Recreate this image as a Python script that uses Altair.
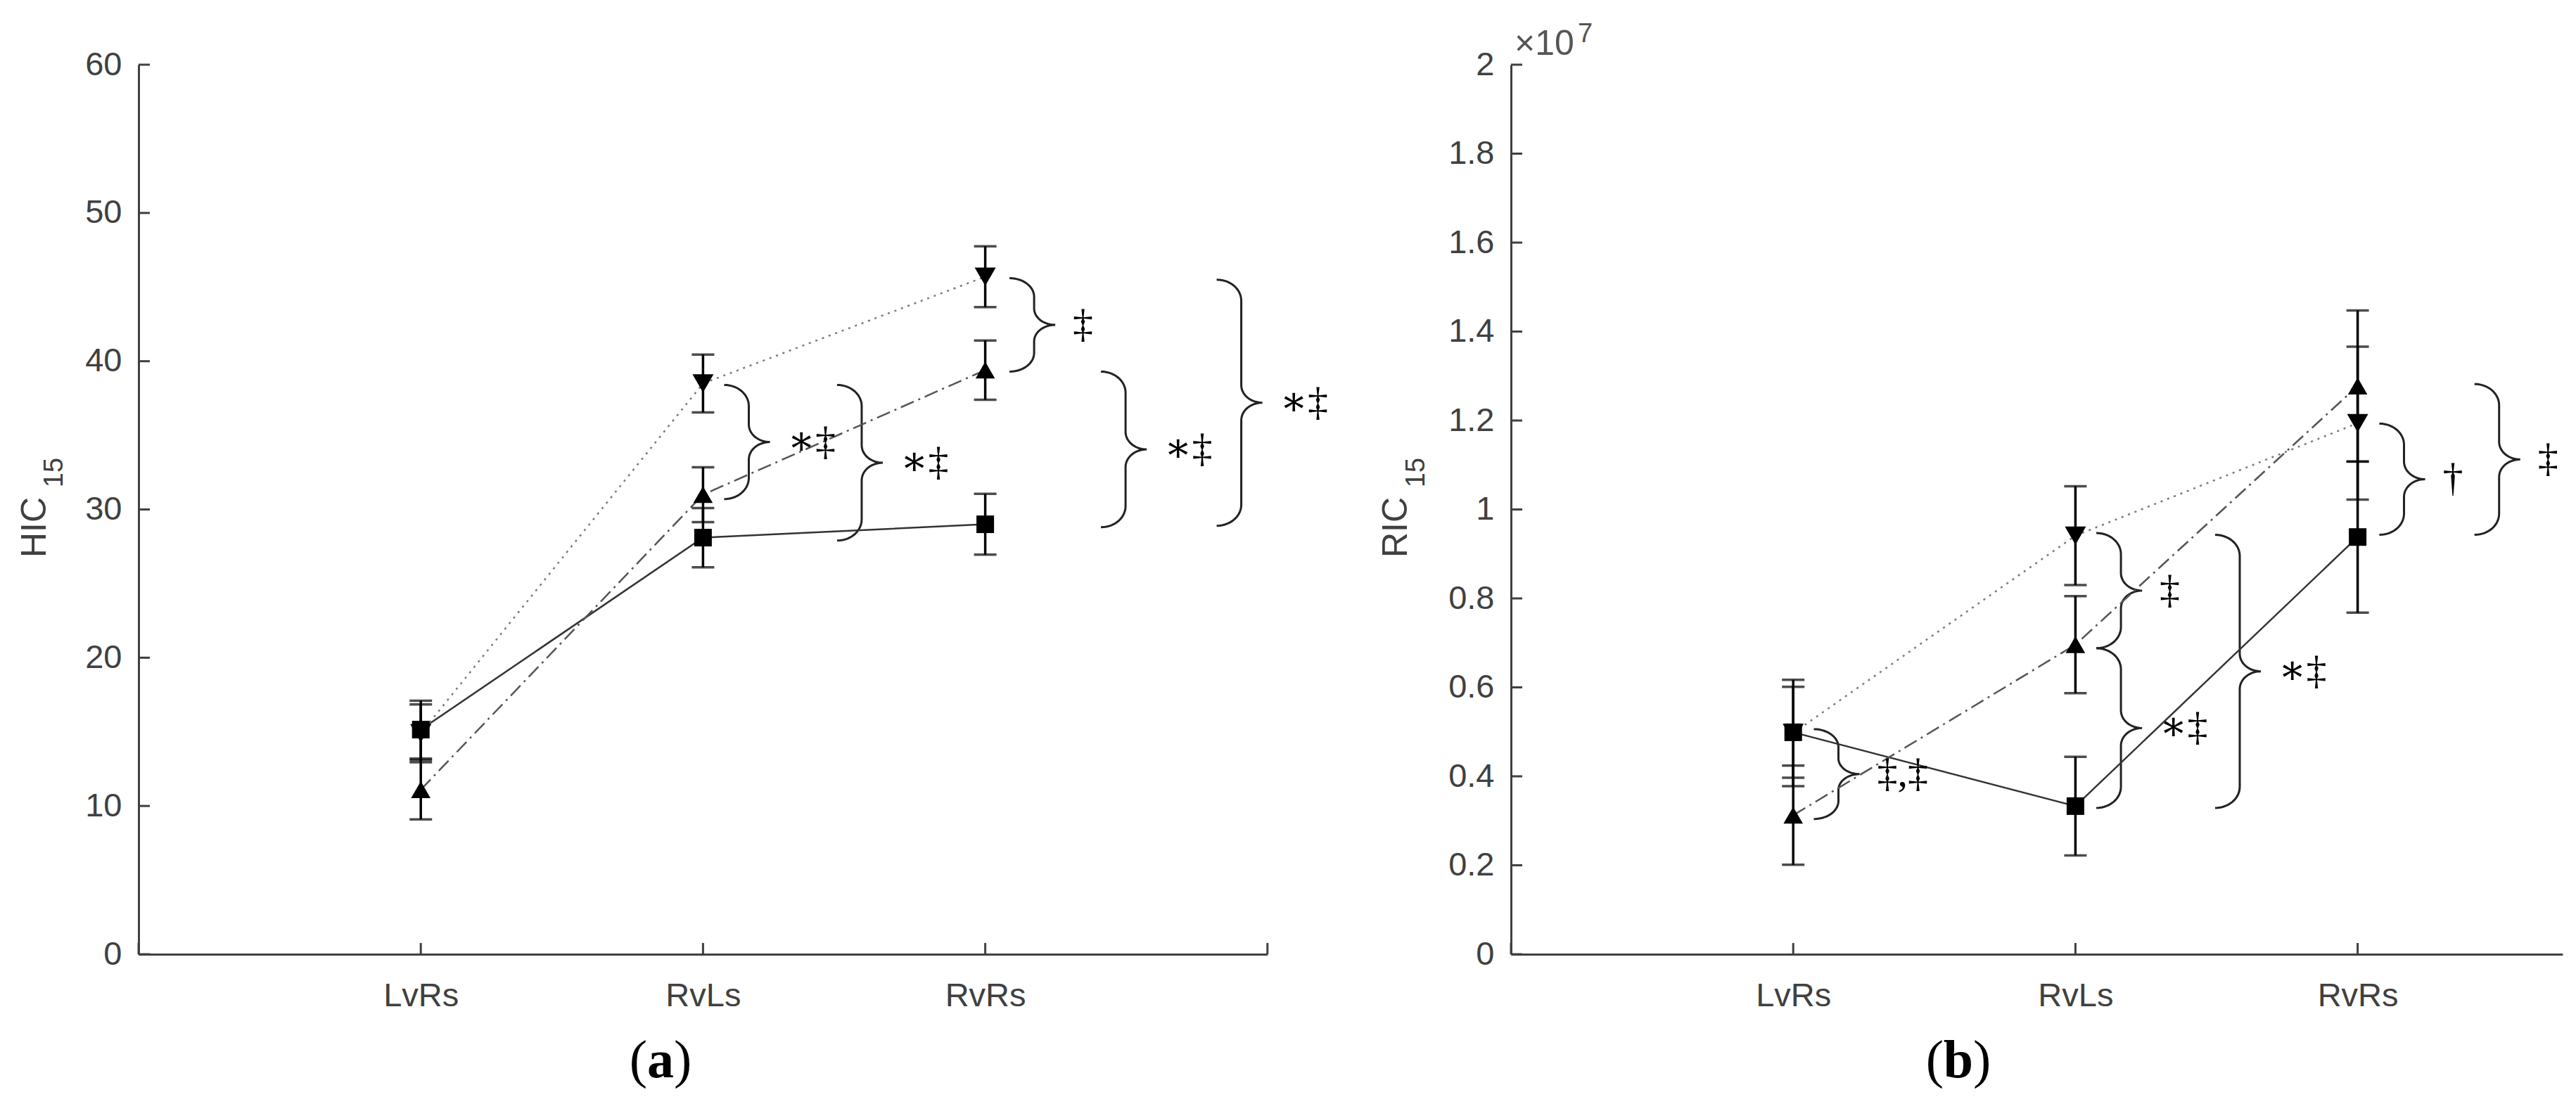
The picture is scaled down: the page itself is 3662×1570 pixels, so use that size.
import math
import json
import altair as alt
import pandas as pd

# ---------------- data ----------------
categories = ["LvRs", "RvLs", "RvRs"]
cat_x = [1, 2, 3]
series_names = ["square", "triangle-up", "triangle-down"]

# (a) HIC15
hic_square = [15.15, 28.1, 29.0]
hic_square_err = [1.95, 2.0, 2.05]
hic_up = [11.1, 31.0, 39.4]
hic_up_err = [2.0, 1.85, 2.0]
hic_down = [14.9, 38.5, 45.7]
hic_down_err = [1.95, 1.95, 2.05]
hic_y_ticks = [0, 10, 20, 30, 40, 50, 60]

# (b) RIC15 (x 10^7)
ric_square = [0.499, 0.333, 0.938]
ric_square_err = [0.102, 0.111, 0.17]
ric_up = [0.3125, 0.696, 1.2775]
ric_up_err = [0.1115, 0.109, 0.17]
ric_down = [0.4975, 0.941, 1.194]
ric_down_err = [0.1195, 0.111, 0.172]
ric_y_ticks = [0, 0.2, 0.4, 0.6, 0.8, 1, 1.2, 1.4, 1.6, 1.8, 2]

# significance braces
hic_brace_left = [2.075, 2.475, 3.086, 3.41, 3.82]
hic_brace_top = [38.4, 38.4, 45.6, 39.3, 45.5]
hic_brace_bottom = [30.7, 27.9, 39.3, 28.8, 28.9]
hic_brace_label = ["∗‡", "∗‡", "‡", "∗‡", "∗‡"]

ric_brace_left = [1.073, 2.074, 2.074, 2.495, 3.077, 3.414]
ric_brace_top = [0.506, 0.947, 0.688, 0.943, 1.193, 1.282]
ric_brace_bottom = [0.304, 0.688, 0.329, 0.329, 0.943, 0.943]
ric_brace_label = ["‡,‡", "‡", "∗‡", "∗‡", "†", "‡"]

# ---------------- styles ----------------
PX_X = 401.2
H = 1265
AX = "#404040"
LINE_STYLE = {
    "square": dict(color="#333333", strokeWidth=2.5),
    "triangle-up": dict(color="#555555", strokeWidth=2.5, strokeDash=[20, 7, 3, 7]),
    "triangle-down": dict(color="#7a7a7a", strokeWidth=2.5, strokeDash=[3, 7]),
}
MARK_SIZE = [625, 900, 900]


def brace_points(xl, yt, yb, pxx, pxy, bid):
    a1, a2 = 35.0, 30.0
    X0, Yt, Yb = xl * pxx, yt * pxy, yb * pxy
    Ym = (Yt + Yb) / 2
    half = (Yt - Yb) / 2
    rv = min(30.0, half * 0.4)
    rv2 = min(25.0, half * 0.35)
    xv = X0 + a1
    pts = []
    n = 14
    for k in range(n + 1):
        th = math.pi / 2 * (1 - k / n)
        pts.append((X0 + a1 * math.cos(th), Yt - rv + rv * math.sin(th)))
    for k in range(n + 1):
        th = math.pi + math.pi / 2 * k / n
        pts.append((xv + a2 + a2 * math.cos(th), Ym + rv2 + rv2 * math.sin(th)))
    for k in range(n + 1):
        th = math.pi / 2 + math.pi / 2 * k / n
        pts.append((xv + a2 + a2 * math.cos(th), Ym - rv2 + rv2 * math.sin(th)))
    for k in range(n + 1):
        th = -math.pi / 2 * k / n
        pts.append((X0 + a1 * math.cos(th), Yb + rv + rv * math.sin(th)))
    rows = [{"bid": bid, "i": i, "x": px / pxx, "y": py / pxy} for i, (px, py) in enumerate(pts)]
    tip = {"x": (X0 + a1 + a2) / pxx, "y": Ym / pxy}
    return rows, tip


def build_panel(vals, errs, b_left, b_top, b_bot, b_lab, ymax, yticks, xmax, xticks,
                ytitle, letter, letter_cx, letter_half, title_x, sub_x, mult=False):
    W = PX_X * xmax
    pxy = H / ymax
    xs = alt.Scale(domain=[0, xmax], nice=False, zero=False)
    ys = alt.Scale(domain=[0, ymax], nice=False, zero=False)
    X = alt.X("x:Q", scale=xs, axis=alt.Axis(values=cat_x, title=None,
              labelExpr=json.dumps(categories) + "[datum.value - 1]"))
    Y = alt.Y("y:Q", scale=ys, axis=alt.Axis(values=yticks, title=None, format=".2~f"))

    pts, bars, caps = [], [], []
    for s, v, e in zip(series_names, vals, errs):
        for xi, vi, ei in zip(cat_x, v, e):
            pts.append({"series": s, "x": xi, "y": vi})
            bars.append({"series": s, "x": xi, "y": vi - ei, "y2": vi + ei})
            caps.append({"x": xi, "y": vi - ei})
            caps.append({"x": xi, "y": vi + ei})
    pts = pd.DataFrame(pts)

    layers = []
    # braces
    brows, tips = [], []
    for bid, (xl, yt, yb, lab) in enumerate(zip(b_left, b_top, b_bot, b_lab)):
        r, t = brace_points(xl, yt, yb, PX_X, pxy, bid)
        brows += r
        t["label"] = lab
        tips.append(t)
    layers.append(alt.Chart(pd.DataFrame(brows)).mark_line(
        color="#222222", strokeWidth=3).encode(x=X, y=Y, detail="bid:N", order="i:Q"))
    # series lines
    for s in series_names:
        layers.append(alt.Chart(pts[pts.series == s]).mark_line(**LINE_STYLE[s]).encode(x=X, y=Y))
    # error bars
    layers.append(alt.Chart(pd.DataFrame(bars)).mark_rule(color="black", strokeWidth=3.5)
                  .encode(x=X, y=Y, y2="y2:Q"))
    layers.append(alt.Chart(pd.DataFrame(caps)).mark_tick(
        orient="horizontal", color="black", size=32, thickness=3.5).encode(x=X, y=Y))
    # markers
    layers.append(alt.Chart(pts).mark_point(filled=True, color="black", opacity=1).encode(
        x=X, y=Y,
        shape=alt.Shape("series:N", scale=alt.Scale(domain=series_names, range=series_names), legend=None),
        size=alt.Size("series:N", scale=alt.Scale(domain=series_names, range=MARK_SIZE), legend=None),
    ))
    # brace labels
    layers.append(alt.Chart(pd.DataFrame(tips)).mark_text(
        align="left", baseline="middle", dx=25, font="Liberation Serif, DejaVu Serif",
        fontSize=58, color="black").encode(x=X, y=Y, text="label:N"))
    # inward ticks
    layers.append(alt.Chart(pd.DataFrame({"x": xticks})).mark_rule(color=AX, strokeWidth=3)
                  .encode(x=X, y=alt.value(H), y2=alt.value(H - 16)))
    layers.append(alt.Chart(pd.DataFrame({"y": yticks})).mark_rule(color=AX, strokeWidth=3)
                  .encode(y=Y, x=alt.value(0), x2=alt.value(16)))
    # y title with subscript
    layers.append(alt.Chart().mark_text(text=ytitle, angle=270, font="Liberation Sans",
                  fontSize=50, color=AX, align="center", baseline="middle")
                  .encode(x=alt.value(title_x), y=alt.value(658)))
    layers.append(alt.Chart().mark_text(text="15", angle=270, font="Liberation Sans",
                  fontSize=38, color=AX, align="center", baseline="middle")
                  .encode(x=alt.value(sub_x), y=alt.value(580)))
    # multiplier
    if mult:
        layers.append(alt.Chart().mark_text(text="×10", font="Liberation Sans", fontSize=50,
                      color="#555555", align="left", baseline="alphabetic")
                      .encode(x=alt.value(5), y=alt.value(-14)))
        layers.append(alt.Chart().mark_text(text="7", font="Liberation Sans", fontSize=38,
                      color="#555555", align="left", baseline="alphabetic")
                      .encode(x=alt.value(95), y=alt.value(-32)))
    # panel letter
    ly = H + 175
    layers.append(alt.Chart().mark_text(text="(", font="Liberation Serif", fontSize=76,
                  color="black", align="right", baseline="alphabetic")
                  .encode(x=alt.value(letter_cx - letter_half), y=alt.value(ly)))
    layers.append(alt.Chart().mark_text(text=letter, font="Liberation Serif", fontSize=76,
                  fontWeight="bold", color="black", align="center", baseline="alphabetic")
                  .encode(x=alt.value(letter_cx), y=alt.value(ly)))
    layers.append(alt.Chart().mark_text(text=")", font="Liberation Serif", fontSize=76,
                  color="black", align="left", baseline="alphabetic")
                  .encode(x=alt.value(letter_cx + letter_half), y=alt.value(ly)))

    return alt.layer(*layers).properties(width=W, height=H)


panel_a = build_panel(
    [hic_square, hic_up, hic_down], [hic_square_err, hic_up_err, hic_down_err],
    hic_brace_left, hic_brace_top, hic_brace_bottom, hic_brace_label,
    60, hic_y_ticks, 4.0, [0, 1, 2, 3, 4], "HIC", "a", 742, 19, -147, -119)

XMAX_B = 3.726
panel_b = build_panel(
    [ric_square, ric_up, ric_down], [ric_square_err, ric_up_err, ric_down_err],
    ric_brace_left, ric_brace_top, ric_brace_bottom, ric_brace_label,
    2, ric_y_ticks, XMAX_B, [0, 1, 2, 3], "RIC", "b", 636, 21, -163, -134, mult=True)

chart = alt.hconcat(panel_a, panel_b, spacing=346, bounds="flush").properties(
    padding={"left": 17, "top": 22, "right": 2, "bottom": 2}
).configure_view(stroke=None).configure_axis(
    grid=False, ticks=False, tickSize=0, domainColor=AX, domainWidth=3,
    labelFont="Liberation Sans", labelFontSize=47, labelColor=AX,
).configure_axisX(labelPadding=36).configure_axisY(labelPadding=24)

chart.save("out.html", embed_options={"renderer": "svg", "actions": False})
